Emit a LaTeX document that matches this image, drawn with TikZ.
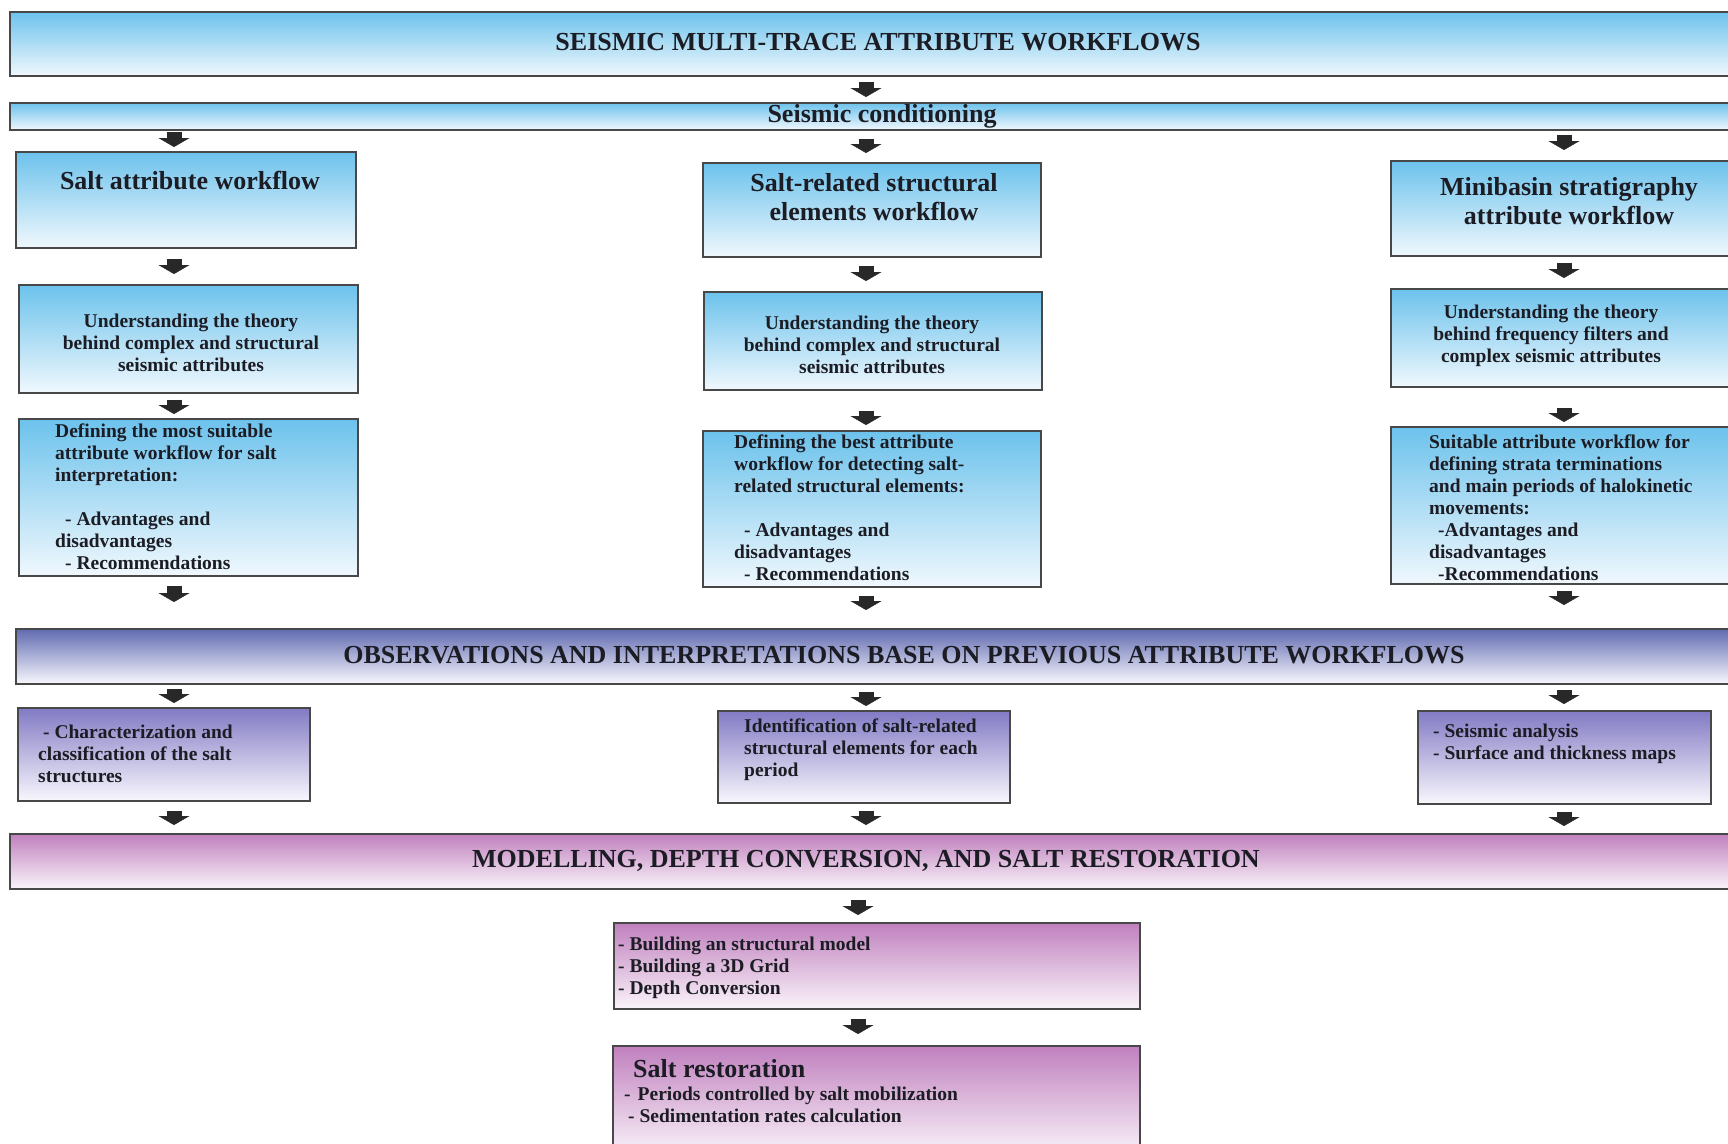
\documentclass[tikz,border=0pt]{standalone}
\usepackage{fontspec}
\setmainfont{Liberation Serif}
\usetikzlibrary{arrows.meta,positioning}

\definecolor{skytop}{RGB}{108,194,236}
\definecolor{skybot}{RGB}{240,248,253}
\definecolor{slatetop}{RGB}{96,106,176}
\definecolor{slatebot}{RGB}{248,248,253}
\definecolor{lilactop}{RGB}{130,122,196}
\definecolor{lilacbot}{RGB}{248,247,253}
\definecolor{orchidtop}{RGB}{192,128,190}
\definecolor{orchidbot}{RGB}{250,244,250}
\definecolor{edgegray}{RGB}{72,72,72}
\definecolor{arrowgray}{RGB}{40,40,40}
\definecolor{ink}{RGB}{28,28,36}

\tikzset{
  panel/.style={draw=edgegray, line width=1.6pt, inner sep=0pt, anchor=north west},
  blue panel/.style={panel, top color=skytop, bottom color=skybot},
  slate panel/.style={panel, top color=slatetop, bottom color=slatebot},
  lilac panel/.style={panel, top color=lilactop, bottom color=lilacbot},
  orchid panel/.style={panel, top color=orchidtop, bottom color=orchidbot},
  banner text/.style={font=\fontsize{26}{30}\selectfont\bfseries, text=ink, inner sep=0pt},
  head text/.style={font=\fontsize{26}{29}\selectfont\bfseries, text=ink, inner sep=0pt, align=center},
  body text/.style={font=\fontsize{19.5}{22}\selectfont\bfseries, text=ink, inner sep=0pt, align=center},
  list text/.style={body text, align=left, anchor=west},
  block arrow/.style={draw=arrowgray, line width=15pt,
    -{Triangle[length=9pt, width=31pt, line width=0.4pt]}}
}

\begin{document}
\begin{tikzpicture}[x=1pt, y=1pt]
\useasboundingbox (0,0) rectangle (1728,-1143);
\clip (0,0) rectangle (1728,-1143);
\fill[white] (0,0) rectangle (1728,-1143);

% banners and boxes
\node[blue panel, minimum width=1735pt, minimum height=64pt] (title) at (9,-11) {};
\node[blue panel, minimum width=1735pt, minimum height=27pt] (cond) at (9,-102) {};

\node[blue panel, minimum width=340pt, minimum height=96pt] (a1) at (15,-151) {};
\node[blue panel, minimum width=338pt, minimum height=94pt] (b1) at (702,-162) {};
\node[blue panel, minimum width=360pt, minimum height=95pt] (c1) at (1390,-160) {};

\node[blue panel, minimum width=339pt, minimum height=108pt] (a2) at (18,-284) {};
\node[blue panel, minimum width=338pt, minimum height=98pt] (b2) at (703,-291) {};
\node[blue panel, minimum width=360pt, minimum height=98pt] (c2) at (1390,-288) {};

\node[blue panel, minimum width=339pt, minimum height=157pt] (a3) at (18,-418) {};
\node[blue panel, minimum width=338pt, minimum height=156pt] (b3) at (702,-430) {};
\node[blue panel, minimum width=360pt, minimum height=157pt] (c3) at (1390,-426) {};

\node[slate panel, minimum width=1730pt, minimum height=55pt] (obs) at (15,-628) {};

\node[lilac panel, minimum width=292pt, minimum height=93pt] (d1) at (17,-707) {};
\node[lilac panel, minimum width=292pt, minimum height=92pt] (d2) at (717,-710) {};
\node[lilac panel, minimum width=293pt, minimum height=93pt] (d3) at (1417,-710) {};

\node[orchid panel, minimum width=1735pt, minimum height=55pt] (mod) at (9,-833) {};

\node[orchid panel, minimum width=526pt, minimum height=86pt] (e1) at (613,-922) {};
\node[orchid panel, minimum width=527pt, minimum height=110pt] (e2) at (612,-1045) {};

% texts
\node[banner text] (titletxt) at (878,-42) {SEISMIC MULTI-TRACE ATTRIBUTE WORKFLOWS};
\node[banner text] (condtxt) at (882,-116) {Seismic conditioning};

\node[head text] (a1txt) at (190,-181) {Salt attribute workflow};
\node[head text] (b1txt) at (874,-197) {Salt-related structural\\elements workflow};
\node[head text] (c1txt) at (1569,-201) {Minibasin stratigraphy\\attribute workflow};

\node[body text] (a2txt) at (191,-343) {Understanding the theory\\behind complex and structural\\seismic attributes};
\node[body text] (b2txt) at (872,-345) {Understanding the theory\\behind complex and structural\\seismic attributes};
\node[body text] (c2txt) at (1551,-336) {Understanding the theory\\behind frequency filters and\\complex seismic attributes};

\node[list text] (a3txt) at (55,-497) {Defining the most suitable\\attribute workflow for salt\\interpretation:\\[22pt]
  \hspace*{10pt}- Advantages and\\disadvantages\\\hspace*{10pt}- Recommendations};
\node[list text] (b3txt) at (734,-508) {Defining the best attribute\\workflow for detecting salt-\\related structural elements:\\[22pt]
  \hspace*{10pt}- Advantages and\\disadvantages\\\hspace*{10pt}- Recommendations};
\node[list text] (c3txt) at (1429,-508) {Suitable attribute workflow for\\defining strata terminations\\and main periods of halokinetic\\movements:\\
  \hspace*{9pt}-Advantages and\\disadvantages\\\hspace*{9pt}-Recommendations};

\node[banner text] (obstxt) at (904,-655) {OBSERVATIONS AND INTERPRETATIONS BASE ON PREVIOUS ATTRIBUTE WORKFLOWS};

\node[list text] (d1txt) at (38,-754) {\hspace*{5pt}- Characterization and\\classification of the salt\\structures};
\node[list text] (d2txt) at (744,-750) {Identification of salt-related\\structural elements for each\\period};
\node[list text] (d3txt) at (1433,-744) {- Seismic analysis\\- Surface and thickness maps};

\node[banner text] (modtxt) at (866,-861) {MODELLING, DEPTH CONVERSION, AND SALT RESTORATION};

\node[list text] (e1txt) at (618,-968) {- Building an structural model\\- Building a 3D Grid\\- Depth Conversion};
\node[head text, anchor=west] (e2head) at (633,-1069) {Salt restoration};
\node[list text] (e2txt) at (624,-1105) {-\hspace*{7pt}Periods controlled by salt mobilization\\\hspace*{4pt}- Sedimentation rates calculation};

% block arrows
\coordinate (colA) at (174,0);
\coordinate (colB) at (866,0);
\coordinate (colC) at (1564,0);
\coordinate (colE) at (858,0);
\foreach \from/\to/\col/\a/\b in {
  title/cond/colB/5/5,
  cond/a1/colA/1/4, cond/b1/colB/8/9, cond/c1/colC/4/10,
  a1/a2/colA/10/10, b1/b2/colB/8/10, c1/c2/colC/6/10,
  a2/a3/colA/6/4, b2/b3/colB/20/5, c2/c3/colC/20/4,
  a3/obs/colA/9/26, b3/obs/colB/8/18, c3/obs/colC/6/23,
  obs/d1/colA/4/4, obs/d2/colB/7/4, obs/d3/colC/5/6,
  d1/mod/colA/9/8, d2/mod/colB/7/8, d3/mod/colC/7/7,
  mod/e1/colE/10/7, e1/e2/colE/9/11}
  \draw[block arrow, shorten <=\a pt, shorten >=\b pt] (\from.south -| \col) -- (\to.north -| \col);
\end{tikzpicture}
\end{document}
